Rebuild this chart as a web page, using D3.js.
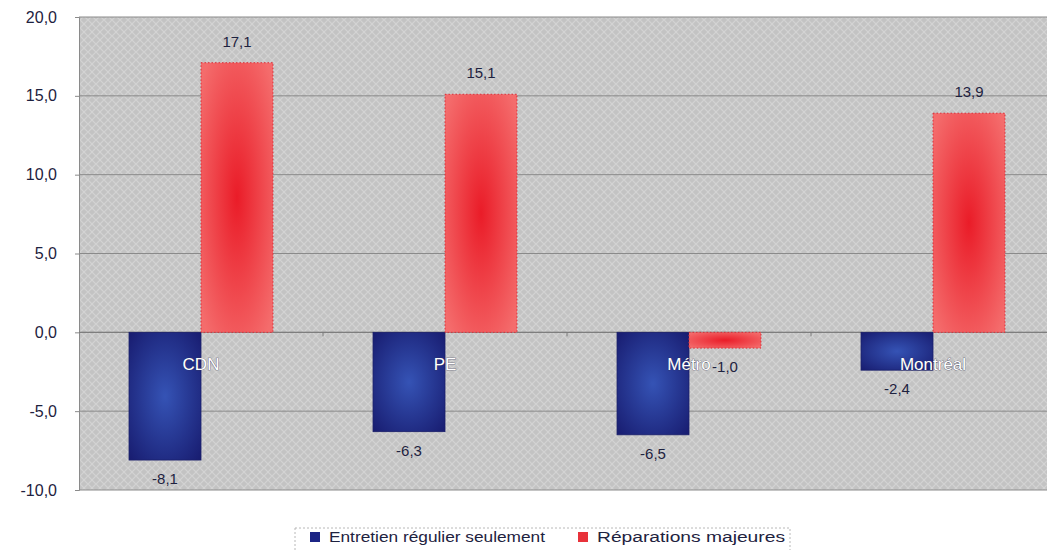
<!DOCTYPE html>
<html>
<head>
<meta charset="utf-8">
<script src="https://cdn.jsdelivr.net/npm/d3@7"></script>
<style>
  body { margin: 0; background: #fff; }
  svg { display: block; font-family: Arial, "Liberation Sans", sans-serif; }
</style>
</head>
<body>
<svg id="chart" width="1047" height="550"></svg>
<script>
// data
const categories = ["CDN", "PE", "Métro", "Montréal"];
const seriesNames = ["Entretien régulier seulement", "Réparations majeures"];
const entretien = [-8.1, -6.3, -6.5, -2.4];
const reparations = [17.1, 15.1, -1.0, 13.9];
const yTicks = [-10, -5, 0, 5, 10, 15, 20];

const fmt = v => d3.format(".1f")(v).replace(".", ",").replace("−", "-");

const svg = d3.select("#chart");
// plot runs past the right edge of the picture, as in the reference
const m = { left: 79, right: 1055, top: 17, bottom: 490 };

const x = d3.scaleBand().domain(categories).range([m.left, m.right]).padding(0);
const y = d3.scaleLinear().domain([-10, 20]).range([m.bottom, m.top]);
const barW = x.bandwidth() * 0.295;

// defs: hatched background + gradients
const defs = svg.append("defs");
const pat = defs.append("pattern")
  .attr("id", "hatch").attr("width", 8).attr("height", 8)
  .attr("patternUnits", "userSpaceOnUse");
pat.append("rect").attr("width", 8).attr("height", 8).attr("fill", "#c3c3c3");
pat.append("path").attr("d", "M0,4 L4,0 M4,8 L8,4 M0,4 L4,8 M4,0 L8,4")
  .attr("stroke", "#d3d3d3").attr("stroke-width", 1.2).attr("fill", "none");

const gBlue = defs.append("radialGradient").attr("id", "gBlue")
  .attr("cx", "50%").attr("cy", "50%").attr("r", "70%");
gBlue.append("stop").attr("offset", "0%").attr("stop-color", "#3553b5");
gBlue.append("stop").attr("offset", "100%").attr("stop-color", "#181c70");

const gRed = defs.append("radialGradient").attr("id", "gRed")
  .attr("cx", "50%").attr("cy", "50%").attr("r", "65%");
gRed.append("stop").attr("offset", "0%").attr("stop-color", "#ea1c28");
gRed.append("stop").attr("offset", "100%").attr("stop-color", "#f46c6c");

// plot background
svg.append("rect")
  .attr("x", m.left).attr("y", m.top)
  .attr("width", m.right - m.left).attr("height", m.bottom - m.top)
  .attr("fill", "url(#hatch)");

// gridlines
svg.append("g").selectAll("line").data(yTicks).join("line")
  .attr("x1", m.left).attr("x2", m.right)
  .attr("y1", d => y(d)).attr("y2", d => y(d))
  .attr("stroke", "#8a8a8a").attr("stroke-width", 1);

// y axis
const yAxis = svg.append("g")
  .attr("transform", `translate(${m.left},0)`)
  .call(d3.axisLeft(y).tickValues(yTicks).tickFormat(fmt).tickSize(4).tickPadding(18));
yAxis.select(".domain").attr("stroke", "#8a8a8a");
yAxis.selectAll(".tick line").attr("stroke", "#8a8a8a");
yAxis.selectAll("text").attr("font-size", 16).attr("fill", "#1e2240");

// x axis on zero line (category separators)
const sep = categories.slice(1).map(c => x(c));
svg.append("line")
  .attr("x1", m.left).attr("x2", m.right)
  .attr("y1", y(0)).attr("y2", y(0))
  .attr("stroke", "#7a7a7a");
svg.append("g").selectAll("line").data(sep).join("line")
  .attr("x1", d => d).attr("x2", d => d)
  .attr("y1", y(0)).attr("y2", y(0) + 4)
  .attr("stroke", "#7a7a7a");

// bars
const groups = svg.append("g").selectAll("g").data(categories).join("g");
const cx = c => x(c) + x.bandwidth() / 2;

groups.append("rect")
  .attr("x", c => cx(c) - barW)
  .attr("width", barW)
  .attr("y", (c, i) => y(Math.max(0, entretien[i])))
  .attr("height", (c, i) => Math.abs(y(entretien[i]) - y(0)))
  .attr("fill", "url(#gBlue)")
  .attr("stroke", "#1a1f6a").attr("stroke-width", 0.8);

groups.append("rect")
  .attr("x", c => cx(c))
  .attr("width", barW)
  .attr("y", (c, i) => y(Math.max(0, reparations[i])))
  .attr("height", (c, i) => Math.abs(y(reparations[i]) - y(0)))
  .attr("fill", "url(#gRed)")
  .attr("stroke", "#d8303a").attr("stroke-width", 1).attr("stroke-dasharray", "1.5,2");

// category labels (white with dark halo)
groups.append("text")
  .attr("x", c => cx(c))
  .attr("y", y(0) + 38)
  .attr("text-anchor", "middle")
  .attr("font-size", 17)
  .attr("fill", "#fff")
  .attr("stroke", "#3a3a55").attr("stroke-width", 0.6).attr("paint-order", "stroke")
  .text(c => c);

// value labels
const labelY = v => v >= 0 ? y(v) - 16 : y(v) + 24;
groups.append("text")
  .attr("x", c => cx(c) - barW / 2)
  .attr("y", (c, i) => labelY(entretien[i]))
  .attr("text-anchor", "middle").attr("font-size", 15).attr("fill", "#1e2240")
  .text((c, i) => fmt(entretien[i]));
groups.append("text")
  .attr("x", c => cx(c) + barW / 2)
  .attr("y", (c, i) => labelY(reparations[i]))
  .attr("text-anchor", "middle").attr("font-size", 15).attr("fill", "#1e2240")
  .text((c, i) => fmt(reparations[i]));

// legend
const lg = svg.append("g").attr("transform", "translate(295,528)");
lg.append("rect").attr("width", 495).attr("height", 26)
  .attr("fill", "#fff").attr("stroke", "#b8b8b8").attr("stroke-dasharray", "2,2");
const legendX = [15, 283];
const legendW = [216, 188];
const items = lg.selectAll("g.item").data(seriesNames).join("g")
  .attr("class", "item")
  .attr("transform", (d, i) => `translate(${legendX[i]},4)`);
items.append("rect").attr("width", 10).attr("height", 10)
  .attr("fill", (d, i) => i === 0 ? "#1c2585" : "#e8323a");
items.append("text").attr("x", 19).attr("y", 10)
  .attr("font-size", 15.5).attr("fill", "#1e2240")
  .attr("textLength", (d, i) => legendW[i]).attr("lengthAdjust", "spacingAndGlyphs")
  .text(d => d);
</script>
</body>
</html>
